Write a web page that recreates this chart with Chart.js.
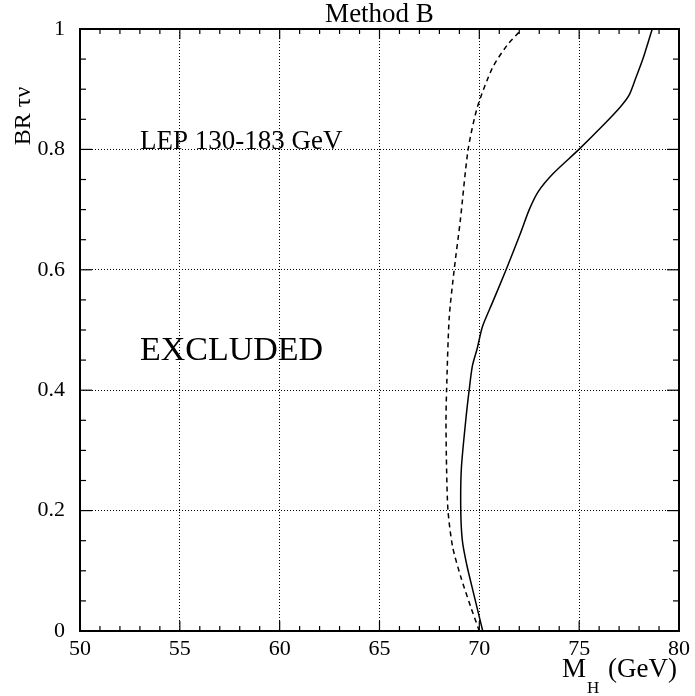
<!DOCTYPE html>
<html>
<head>
<meta charset="utf-8">
<script src="https://cdn.jsdelivr.net/npm/chart.js@4.4.1/dist/chart.umd.min.js"></script>
<style>
  body { margin: 0; background: #fff; }
  canvas { display: block; }
</style>
</head>
<body>
<canvas id="grafico" width="695" height="696"></canvas>
<script>
// limite observado (linea continua)
const brObservado = [0, 0.06, 0.11, 0.15, 0.20, 0.27, 0.35, 0.40, 0.44, 0.47, 0.505, 0.545, 0.60, 0.66, 0.70, 0.73, 0.76, 0.80, 0.84, 0.87, 0.89, 0.92, 0.95, 1.0];
const masaObservada = [70.17, 69.73, 69.37, 69.15, 69.07, 69.10, 69.32, 69.49, 69.65, 69.90, 70.15, 70.65, 71.34, 72.05, 72.50, 72.95, 73.70, 74.99, 76.20, 77.05, 77.50, 77.85, 78.19, 78.66];

// limite esperado (linea discontinua)
const brEsperado = [0, 0.04, 0.09, 0.14, 0.20, 0.27, 0.35, 0.40, 0.52, 0.60, 0.68, 0.80, 0.87, 0.935, 0.973, 1.0];
const masaEsperada = [70.0, 69.57, 69.07, 68.66, 68.43, 68.36, 68.33, 68.36, 68.49, 68.74, 69.04, 69.44, 69.90, 70.65, 71.39, 72.14];

const ticksMasa = [50, 55, 60, 65, 70, 75, 80];
const ticksBR = [0, 0.2, 0.4, 0.6, 0.8, 1];
const etiquetasBR = ["0", "0.2", "0.4", "0.6", "0.8", "1"];

const fuente = "'Liberation Serif', 'Times New Roman', serif";

const puntos = (masas, brs) => masas.map((m, i) => ({ x: m, y: brs[i] }));

function linea(ctx, x1, y1, x2, y2) {
  ctx.beginPath();
  ctx.moveTo(x1, y1);
  ctx.lineTo(x2, y2);
  ctx.stroke();
}

// marco, marcas hacia dentro y textos
const marco = {
  id: "marco",
  afterDraw(chart) {
    const { ctx, chartArea: a, scales: { x, y } } = chart;
    ctx.save();
    ctx.strokeStyle = "#000";
    ctx.lineWidth = 2;
    ctx.strokeRect(a.left, a.top, a.right - a.left, a.bottom - a.top);

    ctx.lineWidth = 1.2;
    for (let m = 50; m <= 80; m++) {
      const px = x.getPixelForValue(m);
      const largo = m % 5 === 0 ? 10 : 5;
      linea(ctx, px, a.bottom, px, a.bottom - largo);
      linea(ctx, px, a.top, px, a.top + largo);
    }
    for (let k = 0; k <= 20; k++) {
      const py = y.getPixelForValue(k * 0.05);
      const largo = k % 4 === 0 ? 12 : 6;
      linea(ctx, a.left, py, a.left + largo, py);
      linea(ctx, a.right, py, a.right - largo, py);
    }

    ctx.fillStyle = "#000";
    ctx.textBaseline = "alphabetic";

    // titulo
    ctx.font = `27px ${fuente}`;
    ctx.textAlign = "center";
    ctx.fillText("Method B", (a.left + a.right) / 2, a.top - 7);

    // titulo eje y
    ctx.save();
    ctx.translate(30, 116);
    ctx.rotate(-Math.PI / 2);
    ctx.font = `24px ${fuente}`;
    ctx.fillText("BR τν", 0, 0);
    ctx.restore();

    // titulo eje x con subindice
    ctx.textAlign = "left";
    ctx.font = `27px ${fuente}`;
    const finX = 677;
    const anchoGev = ctx.measureText("(GeV)").width;
    ctx.fillText("(GeV)", finX - anchoGev, 677);
    ctx.fillText("M", 562, 677);
    const anchoM = ctx.measureText("M").width;
    ctx.font = `17px ${fuente}`;
    ctx.fillText("H", 562 + anchoM + 1, 693);

    // anotaciones
    ctx.font = `27px ${fuente}`;
    ctx.fillText("LEP 130-183 GeV", x.getPixelForValue(53), y.getPixelForValue(0.8));
    ctx.font = `34px ${fuente}`;
    ctx.fillText("EXCLUDED", x.getPixelForValue(53), y.getPixelForValue(0.45));
    ctx.restore();
  }
};

const esBorde = (c, lo, hi) => c.tick && (c.tick.value === lo || c.tick.value === hi);

new Chart(document.getElementById("grafico"), {
  type: "scatter",
  data: {
    datasets: [
      {
        data: puntos(masaObservada, brObservado),
        showLine: true,
        borderColor: "#000",
        borderWidth: 1.5,
        pointRadius: 0,
        tension: 0.25
      },
      {
        data: puntos(masaEsperada, brEsperado),
        showLine: true,
        borderColor: "#000",
        borderWidth: 1.5,
        borderDash: [5, 4],
        pointRadius: 0,
        tension: 0.25
      }
    ]
  },
  options: {
    responsive: false,
    animation: false,
    layout: { padding: { top: 29, right: 12, left: 0, bottom: 0 } },
    plugins: { legend: { display: false }, tooltip: { enabled: false } },
    scales: {
      x: {
        type: "linear",
        min: 50,
        max: 80,
        afterFit: (s) => { s.height = 65; },
        afterBuildTicks: (s) => { s.ticks = ticksMasa.map(v => ({ value: v })); },
        ticks: { font: { family: fuente, size: 22 }, color: "#000", padding: 5, maxRotation: 0, autoSkip: false },
        grid: {
          drawTicks: false,
          lineWidth: 1,
          color: (c) => esBorde(c, 50, 80) ? "rgba(0,0,0,0)" : "#000"
        },
        border: { display: false, dash: [1, 2] }
      },
      y: {
        type: "linear",
        min: 0,
        max: 1,
        afterFit: (s) => { s.width = 80; },
        afterBuildTicks: (s) => { s.ticks = ticksBR.map(v => ({ value: v })); },
        ticks: {
          font: { family: fuente, size: 22 },
          color: "#000",
          padding: 15,
          autoSkip: false,
          callback: (v, i) => etiquetasBR[i]
        },
        grid: {
          drawTicks: false,
          lineWidth: 1,
          color: (c) => esBorde(c, 0, 1) ? "rgba(0,0,0,0)" : "#000"
        },
        border: { display: false, dash: [1, 2] }
      }
    }
  },
  plugins: [marco]
});
</script>
</body>
</html>
